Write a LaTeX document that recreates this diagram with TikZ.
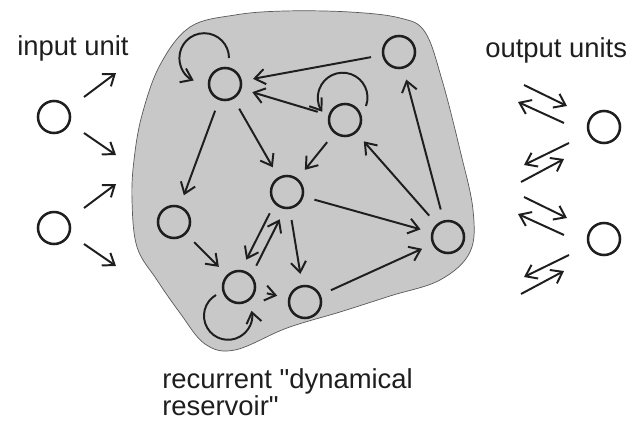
\documentclass[tikz,border=0pt]{standalone}
\usepackage{fontspec}
\setmainfont{Liberation Sans}[Ligatures=TeXOff]
\usetikzlibrary{arrows.meta,calc}
\definecolor{resgray}{RGB}{200,200,200}
\definecolor{inkgray}{RGB}{30,30,30}

\begin{document}
\begin{tikzpicture}[x=0.025cm, y=-0.025cm,
  unit/.style={draw=inkgray, circle, line width=1.8pt,
               minimum size=0.8cm, inner sep=0pt},
  link/.style={-{Straight Barb[length=2.6mm,width=3.8mm]}, line width=1.4pt,
               inkgray, shorten <=0.28cm, shorten >=0.28cm},
  free/.style={-{Straight Barb[length=2.6mm,width=3.8mm]}, line width=1.4pt,
               inkgray},
  lbl/.style={font=\fontsize{19.5}{19.2}\selectfont, text=inkgray,
              inner sep=0pt, anchor=base west, align=left}
]
\useasboundingbox (0,0) rectangle (640,421);

%% ---------- RESERVOIR BLOB ----------
\draw[fill=resgray, draw=black!65, line width=0.5pt]
  plot[smooth cycle, tension=0.6] coordinates {
    (190,27) (235,15) (285,11) (350,12) (400,18) (425,32) (442,80)
    (460,150) (473,210) (470,252) (440,280) (390,296) (340,312)
    (287,328) (235,350) (205,344) (180,313) (157,280) (137,247)
    (132,200) (134,160) (142,115) (160,65)};

%% ---------- UNITS ----------
\node[unit] (in1)  at (54,117)  {};
\node[unit] (in2)  at (54,228)  {};
\node[unit] (rA)   at (225,84)  {};
\node[unit] (rB)   at (399,52)  {};
\node[unit] (rC)   at (345,120) {};
\node[unit] (rD)   at (287,192) {};
\node[unit] (rE)   at (174,222) {};
\node[unit] (rF)   at (239,287) {};
\node[unit] (rG)   at (305,302) {};
\node[unit] (rH)   at (448,237) {};
\node[unit] (out1) at (604,127) {};
\node[unit] (out2) at (604,239) {};

%% ---------- LABELS ----------
\node[lbl] (inlbl)  at (17,55)   {input unit};
\node[lbl] (outlbl) at (485,57)  {output units};
\node[lbl] (reslbl) at (162,415) {recurrent "dynamical\\reservoir"};

%% ---------- INPUT ARROWS ----------
\draw[free] ($(in1)+(30,-20)$) -- ($(in1)+(62,-44)$);
\draw[free] ($(in1)+(30,16)$)  -- ($(in1)+(62,38)$);
\draw[free] ($(in2)+(30,-20)$) -- ($(in2)+(62,-44)$);
\draw[free] ($(in2)+(30,16)$)  -- ($(in2)+(62,38)$);

%% ---------- RESERVOIR CONNECTIONS ----------
\draw[link] (rB) -- (rA);
\draw[link] (rC) -- (rA);
\draw[link] (rA) -- (rD);
\draw[link] (rA) -- (rE);
\draw[link] (rC) -- (rD);
\draw[link] (rH) -- (rC);
\draw[link] (rH) -- (rB);
\draw[link] (rD) -- (rH);
\draw[link] (rE) -- (rF);
\draw[link] (rD) -- (rG);
\draw[link] (rF) -- (rG);
\draw[link] (rG) -- (rH);
\draw[link, shorten <=0.68cm, shorten >=0.68cm]
  ($(rD)+(-5,-3)$) -- ($(rF)+(-5,-3)$);
\draw[link, shorten <=0.68cm, shorten >=0.68cm]
  ($(rF)+(5,3)$) -- ($(rD)+(5,3)$);

%% ---------- SELF LOOPS ----------
\draw[free] ($(rA)+(4,-26)$) arc[start angle=0, end angle=245, radius=0.62cm];
\draw[free] ($(rC)+(21,-14)$) arc[start angle=-20, end angle=215, radius=0.62cm];
\draw[free] ($(rF)+(-23,8)$) arc[start angle=120, end angle=372, radius=0.6cm];

%% ---------- OUTPUT ARROWS ----------
\draw[free] ($(out1)+(-80,-42)$) -- ($(out1)+(-37,-21)$);
\draw[free] ($(out1)+(-40,-4)$)  -- ($(out1)+(-86,-25)$);
\draw[free] ($(out1)+(-35,16)$)  -- ($(out1)+(-80,38)$);
\draw[free] ($(out1)+(-83,55)$)  -- ($(out1)+(-40,32)$);
\draw[free] ($(out2)+(-80,-42)$) -- ($(out2)+(-37,-21)$);
\draw[free] ($(out2)+(-40,-4)$)  -- ($(out2)+(-86,-25)$);
\draw[free] ($(out2)+(-35,16)$)  -- ($(out2)+(-80,38)$);
\draw[free] ($(out2)+(-83,55)$)  -- ($(out2)+(-40,32)$);

\end{tikzpicture}
\end{document}
